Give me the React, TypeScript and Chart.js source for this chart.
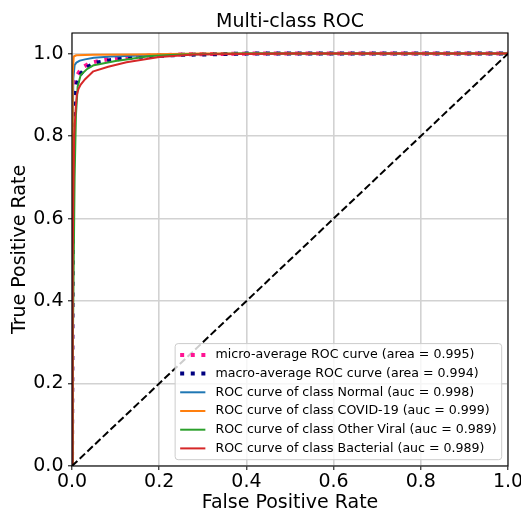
import { useEffect, useRef } from 'react';
import { Chart, registerables } from 'chart.js';

Chart.register(...registerables);

const chartTitle = 'Multi-class ROC';
const xAxisTitle = 'False Positive Rate';
const yAxisTitle = 'True Positive Rate';
const xTicks = [0, 0.2, 0.4, 0.6, 0.8, 1.0];
const yTicks = [0, 0.2, 0.4, 0.6, 0.8, 1.0];

const microFpr = [0, 0.0005, 0.001, 0.002, 0.004, 0.007, 0.012, 0.018, 0.025, 0.041, 0.064, 0.1, 0.15, 0.25, 0.4, 1];
const microTpr = [0, 0.3, 0.6, 0.8, 0.89, 0.93, 0.948, 0.958, 0.967, 0.977, 0.983, 0.989, 0.994, 0.998, 1.0, 1.0];

const macroFpr = [0, 0.001, 0.002, 0.004, 0.006, 0.01, 0.016, 0.03, 0.055, 0.087, 0.15, 0.25, 0.4, 1];
const macroTpr = [0, 0.4, 0.7, 0.84, 0.89, 0.922, 0.945, 0.965, 0.978, 0.984, 0.992, 0.997, 1.0, 1.0];

const normalFpr = [0, 0.001, 0.002, 0.003, 0.006, 0.01, 0.018, 0.03, 0.05, 0.09, 0.14, 0.25, 0.4, 1];
const normalTpr = [0, 0.5, 0.8, 0.94, 0.972, 0.978, 0.983, 0.986, 0.99, 0.993, 0.995, 0.998, 1.0, 1.0];

const covidFpr = [0, 0.001, 0.002, 0.004, 0.01, 0.05, 0.15, 0.3, 1];
const covidTpr = [0, 0.7, 0.95, 0.993, 0.996, 0.997, 0.998, 1.0, 1.0];

const viralFpr = [0, 0.002, 0.004, 0.006, 0.009, 0.013, 0.02, 0.035, 0.05, 0.1, 0.125, 0.18, 0.25, 0.4, 1];
const viralTpr = [0, 0.3, 0.5, 0.7, 0.85, 0.92, 0.948, 0.963, 0.972, 0.982, 0.986, 0.994, 0.998, 1.0, 1.0];

const bacterialFpr = [0, 0.001, 0.002, 0.003, 0.005, 0.008, 0.011, 0.015, 0.02, 0.03, 0.049, 0.083, 0.125, 0.2, 0.28, 0.5, 1];
const bacterialTpr = [0, 0.2, 0.5, 0.65, 0.8, 0.86, 0.9, 0.915, 0.925, 0.938, 0.957, 0.968, 0.979, 0.992, 0.998, 1.0, 1.0];

const chanceFpr = [0, 1];
const chanceTpr = [0, 1];

const seriesLabels = [
  'micro-average ROC curve (area = 0.995)',
  'macro-average ROC curve (area = 0.994)',
  'ROC curve of class Normal (auc = 0.998)',
  'ROC curve of class COVID-19 (auc = 0.999)',
  'ROC curve of class Other Viral (auc = 0.989)',
  'ROC curve of class Bacterial (auc = 0.989)',
];

const FONT = "'DejaVu Sans', sans-serif";

function pts(fpr: number[], tpr: number[]) {
  return fpr.map((x, i) => ({ x, y: tpr[i] }));
}

const overlayPlugin = {
  id: 'overlay',
  afterDatasetsDraw(chart: any) {
    const { ctx, chartArea: a } = chart;
    ctx.save();
    // spines
    ctx.strokeStyle = '#000';
    ctx.lineWidth = 1.1;
    ctx.setLineDash([]);
    ctx.strokeRect(a.left, a.top, a.right - a.left, a.bottom - a.top);

    // title
    ctx.fillStyle = '#000';
    ctx.font = `19px ${FONT}`;
    ctx.textAlign = 'center';
    ctx.textBaseline = 'alphabetic';
    ctx.fillText(chartTitle, (a.left + a.right) / 2, 26.7);

    // legend (lower right, inside axes)
    const fs = 12.6;
    ctx.font = `${fs}px ${FONT}`;
    const items = chart.data.datasets.filter((d: any) => d.label);
    const maxW = Math.max(...items.map((d: any) => ctx.measureText(d.label).width));
    const pad = 0.4 * fs;
    const handle = 2 * fs;
    const gap = 0.8 * fs;
    const pitch = 18.7;
    const edge = 11.3;
    const w = pad + handle + gap + maxW + pad;
    const h = 2 * edge + (items.length - 1) * pitch;
    const right = a.right - 0.5 * fs;
    const bottom = a.bottom - 0.5 * fs;
    const left = right - w;
    const top = bottom - h;
    const r = 3;
    ctx.beginPath();
    ctx.moveTo(left + r, top);
    ctx.lineTo(right - r, top);
    ctx.arcTo(right, top, right, top + r, r);
    ctx.lineTo(right, bottom - r);
    ctx.arcTo(right, bottom, right - r, bottom, r);
    ctx.lineTo(left + r, bottom);
    ctx.arcTo(left, bottom, left, bottom - r, r);
    ctx.lineTo(left, top + r);
    ctx.arcTo(left, top, left + r, top, r);
    ctx.closePath();
    ctx.fillStyle = 'rgba(255,255,255,0.8)';
    ctx.fill();
    ctx.strokeStyle = '#cccccc';
    ctx.lineWidth = 1;
    ctx.stroke();

    items.forEach((d: any, i: number) => {
      const cy = top + edge + i * pitch;
      ctx.beginPath();
      ctx.strokeStyle = d.borderColor;
      ctx.lineWidth = d.borderWidth;
      ctx.lineCap = 'butt';
      ctx.setLineDash(d.borderDash || []);
      ctx.moveTo(left + pad, cy);
      ctx.lineTo(left + pad + handle, cy);
      ctx.stroke();
      ctx.setLineDash([]);
      ctx.fillStyle = '#000';
      ctx.textAlign = 'left';
      ctx.textBaseline = 'middle';
      ctx.fillText(d.label, left + pad + handle + gap, cy);
    });
    ctx.restore();
  },
};

export default function App() {
  const ref = useRef<HTMLCanvasElement>(null);

  useEffect(() => {
    if (!ref.current) return;
    Chart.defaults.font.family = FONT;
    Chart.defaults.color = '#000';
    const dotted = [4, 6.6];
    const datasets: any[] = [
      { label: seriesLabels[0], data: pts(microFpr, microTpr), borderColor: '#ff1493', borderWidth: 4, borderDash: dotted, order: 6 },
      { label: seriesLabels[1], data: pts(macroFpr, macroTpr), borderColor: '#000080', borderWidth: 4, borderDash: dotted, order: 5 },
      { label: seriesLabels[2], data: pts(normalFpr, normalTpr), borderColor: '#1f77b4', borderWidth: 2, order: 4 },
      { label: seriesLabels[3], data: pts(covidFpr, covidTpr), borderColor: '#ff7f0e', borderWidth: 2, order: 3 },
      { label: seriesLabels[4], data: pts(viralFpr, viralTpr), borderColor: '#2ca02c', borderWidth: 2, order: 2 },
      { label: seriesLabels[5], data: pts(bacterialFpr, bacterialTpr), borderColor: '#d62728', borderWidth: 2, order: 1 },
      { label: '', data: pts(chanceFpr, chanceTpr), borderColor: '#000', borderWidth: 2, borderDash: [7.4, 3.2], order: 0 },
    ];
    datasets.forEach((d) => {
      d.fill = false;
      d.tension = 0;
      d.pointRadius = 0;
      d.borderJoinStyle = 'round';
    });

    const gridOpts = { color: '#d2d2d2', lineWidth: 1.6, tickColor: '#000', tickLength: 4, tickWidth: 1, drawTicks: true };

    const chart = new Chart(ref.current, {
      type: 'line',
      data: { datasets },
      plugins: [overlayPlugin],
      options: {
        animation: false,
        responsive: false,
        devicePixelRatio: 1,
        layout: { padding: { left: 0, right: 13, top: 33, bottom: 0 } },
        plugins: { legend: { display: false }, tooltip: { enabled: false }, title: { display: false } },
        elements: { point: { radius: 0 } },
        scales: {
          x: {
            type: 'linear',
            min: 0,
            max: 1,
            afterBuildTicks: (s: any) => {
              s.ticks = xTicks.map((v) => ({ value: v }));
            },
            afterFit: (s: any) => {
              s.height = 47;
              s.paddingLeft = 0;
              s.paddingRight = 0;
            },
            ticks: {
              callback: (v: any) => Number(v).toFixed(1),
              font: { size: 19 },
              padding: 1,
              color: '#000',
              maxRotation: 0,
              autoSkip: false,
            },
            grid: gridOpts,
            border: { display: false },
            title: { display: true, text: xAxisTitle, font: { size: 19, lineHeight: 1 }, padding: { top: 0, bottom: 0 }, color: '#000' },
          },
          y: {
            type: 'linear',
            min: 0,
            max: 1.05,
            afterBuildTicks: (s: any) => {
              s.ticks = yTicks.map((v) => ({ value: v }));
            },
            afterFit: (s: any) => {
              s.width = 72;
              s.paddingTop = 0;
              s.paddingBottom = 0;
            },
            ticks: {
              callback: (v: any) => Number(v).toFixed(1),
              font: { size: 19 },
              padding: 4.5,
              color: '#000',
              autoSkip: false,
            },
            grid: gridOpts,
            border: { display: false },
            title: { display: true, text: yAxisTitle, font: { size: 19, lineHeight: 1 }, padding: { top: 10.5, bottom: 0 }, color: '#000' },
          },
        },
      } as any,
    });
    return () => chart.destroy();
  }, []);

  return (
    <div style={{ position: 'absolute', left: 0, top: 0, width: 521, height: 513 }}>
      <canvas ref={ref} width={521} height={513} style={{ display: 'block' }} />
    </div>
  );
}
